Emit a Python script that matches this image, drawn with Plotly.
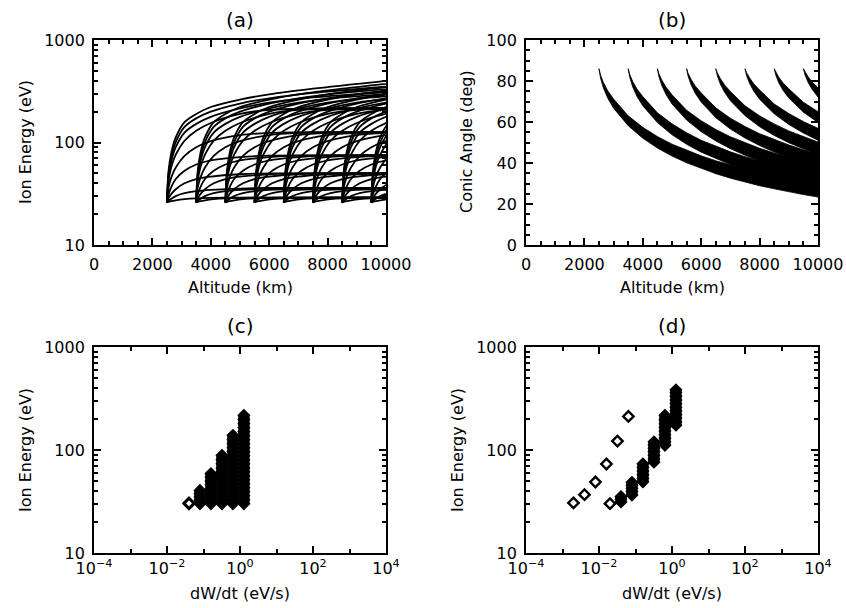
import plotly.graph_objects as go

# ---------------- data ----------------
# Panel (a): ion energy vs altitude, one family of curves per release altitude
FAMILY_STARTS = [2500, 3500, 4500, 5500, 6500, 7500, 8500, 9500]          # km
CURVE_OFFSETS = [0, 50, 150, 300, 600, 1000, 1500, 2500, 3500, 5000, 7500]  # km above release
CURVE_ENERGIES = [                                                          # eV
    [26, 52, 80, 112, 158, 190, 222, 262, 295, 335, 400],
    [26, 48, 73, 101, 142, 172, 200, 240, 270, 305, 350],
    [26, 45, 66, 90, 125, 152, 178, 215, 245, 275, 310],
    [26, 42, 58, 76, 104, 130, 155, 190, 208, 215, 217],
    [26, 36, 46, 57, 74, 90, 103, 118, 124, 126, 126],
    [26, 31, 37, 44, 53, 61, 67, 72, 74.5, 75, 75],
    [26, 28.5, 31.5, 35, 40, 44, 46.5, 49, 50, 50, 50],
    [26, 27, 28.3, 30, 32, 33.5, 34.5, 35.5, 36, 36, 36],
    [26, 26.3, 26.8, 27.3, 28, 28.5, 28.8, 29, 29, 29, 29],
]

# Panel (b): conic angle bands (upper / lower envelope) per release altitude
B_ALT = {
    2500: [2500, 2550, 2650, 2800, 3000, 3500, 4000, 4500, 5000, 5500, 6000, 6500, 7000, 7500, 8000, 8500, 9000, 9500, 10000],
    3500: [3500, 3550, 3650, 3800, 4000, 4500, 5000, 5500, 6000, 6500, 7000, 7500, 8000, 8500, 9000, 9500, 10000],
    4500: [4500, 4550, 4650, 4800, 5000, 5500, 6000, 6500, 7000, 7500, 8000, 8500, 9000, 9500, 10000],
    5500: [5500, 5550, 5650, 5800, 6000, 6500, 7000, 7500, 8000, 8500, 9000, 9500, 10000],
    6500: [6500, 6550, 6650, 6800, 7000, 7500, 8000, 8500, 9000, 9500, 10000],
    7500: [7500, 7550, 7650, 7800, 8000, 8500, 9000, 9500, 10000],
    8500: [8500, 8550, 8650, 8800, 9000, 9500, 10000],
    9500: [9500, 9550, 9650, 9800, 10000],
}
B_LOWER = {
    2500: [86, 81.6, 76.6, 71.6, 66.75, 58.2, 52.1, 47.3, 43.4, 40.1, 37.3, 34.8, 32.6, 30.7, 28.9, 27.4, 25.9, 24.6, 23.4],
    3500: [86, 81.9, 77.2, 72.5, 67.9, 59.7, 53.8, 49.15, 45.3, 42.1, 39.25, 36.8, 34.6, 32.65, 30.9, 29.3, 27.85],
    4500: [86, 82.2, 77.8, 73.3, 68.8, 60.95, 55.3, 50.75, 47.0, 43.8, 41.0, 38.6, 36.4, 34.4, 32.7],
    5500: [86, 82.4, 78.2, 73.9, 69.7, 62.1, 56.55, 52.2, 48.5, 45.35, 42.6, 40.2, 38.0],
    6500: [86, 82.65, 78.6, 74.5, 70.4, 63.1, 57.7, 53.45, 49.85, 46.8, 44.05],
    7500: [86, 82.8, 79.0, 75.0, 71.1, 64.0, 58.8, 54.6, 51.1],
    8500: [86, 83.0, 79.3, 75.5, 71.7, 64.8, 59.75],
    9500: [86, 83.15, 79.6, 75.9, 72.2],
}
B_UPPER = {
    2500: [86, 83.0, 79.3, 75.2, 71.2, 63.0, 57.4, 52.9, 49.2, 46.2, 43.5, 41.1, 39.0, 37.2, 35.5, 34.1, 32.7, 31.4, 30.3],
    3500: [86, 83.3, 79.9, 76.1, 72.4, 64.5, 59.1, 54.75, 51.1, 48.2, 45.45, 43.1, 41.0, 39.15, 37.5, 36.0, 34.65],
    4500: [86, 83.6, 80.5, 76.9, 73.3, 65.75, 60.6, 56.35, 52.8, 49.9, 47.2, 44.9, 42.8, 40.9, 39.3],
    5500: [86, 83.8, 80.9, 77.5, 74.2, 66.9, 61.85, 57.8, 54.3, 51.45, 48.8, 46.5, 44.4],
    6500: [86, 84.05, 81.3, 78.1, 74.9, 67.9, 63.0, 59.05, 55.65, 52.9, 50.25],
    7500: [86, 84.2, 81.7, 78.6, 75.6, 68.8, 64.1, 60.2, 56.9],
    8500: [86, 84.4, 82.0, 79.1, 76.2, 69.6, 65.05],
    9500: [86, 84.55, 82.3, 79.5, 76.7],
}

# Panel (c): energy vs heating rate
RATES = [0.04, 0.08, 0.16, 0.32, 0.64, 1.28]  # eV/s
C_ENERGIES = [
    [30, 30.6],
    [30, 32.5, 35, 37.5, 40.5],
    [30, 32.5, 35.5, 38.5, 42, 46, 50, 54.5, 59],
    [30, 33, 36, 39.5, 43, 47, 51.5, 56, 61.5, 67, 73.5, 80.5, 89],
    [30, 33, 36, 39.5, 43, 47, 51.5, 56, 61.5, 67, 73.5, 80.5, 88, 96, 105, 115, 126, 139],
    [30, 33, 36, 39.5, 43, 47, 51.5, 56, 61.5, 67, 73.5, 80.5, 88, 96, 105, 115, 126, 138, 151, 165, 181, 198, 217],
]

# Panel (d): energy vs heating rate, two model runs
D_ENERGIES = [
    [31.3, 33.3, 35.3],
    [36.5, 39.5, 42.5, 45.5, 48.5],
    [49, 53, 57.5, 62.5, 68, 73.5],
    [76, 82, 89, 96.5, 104, 112, 120],
    [111, 120, 130, 141, 153, 166, 180, 196, 217],
    [174, 188, 204, 221, 240, 260, 282, 306, 332, 360, 385],
]
D_OPEN_RATES = [0.002, 0.004, 0.008, 0.016, 0.032, 0.064, 0.02]
D_OPEN_ENERGIES = [30.6, 36.8, 48.9, 73.1, 122, 212, 30.1]

# ---------------- layout helpers ----------------
W, H = 846, 608
FONT = "DejaVu Sans"


def px_x(p):
    return p / W


def px_y(p):
    return 1 - p / H


XDOM_L = [px_x(94), px_x(386)]
XDOM_R = [px_x(526), px_x(818)]
YDOM_T = [px_y(245), px_y(40)]
YDOM_B = [px_y(553), px_y(347)]

fig = go.Figure()

LINE_W = 1.8

# Panel (a)
for z0 in FAMILY_STARTS:
    for curve in CURVE_ENERGIES:
        fig.add_trace(go.Scatter(
            x=[z0 + d for d in CURVE_OFFSETS], y=curve, mode="lines",
            line=dict(color="black", width=LINE_W, shape="spline", smoothing=0.8),
            xaxis="x", yaxis="y", hoverinfo="skip"))

# Panel (b)
for z0 in FAMILY_STARTS:
    xs = B_ALT[z0] + B_ALT[z0][::-1]
    ys = B_UPPER[z0] + B_LOWER[z0][::-1]
    fig.add_trace(go.Scatter(
        x=xs, y=ys, mode="lines", fill="toself", fillcolor="black",
        line=dict(color="black", width=0.8),
        xaxis="x2", yaxis="y2", hoverinfo="skip"))

DIAM = 8.8
FILLED = dict(symbol="diamond", size=DIAM, color="black", line=dict(width=1.2, color="black"))
OPEN = dict(symbol="diamond-open", size=8, color="black", line=dict(width=2.4, color="black"))


def column(r, es, xa, ya):
    if len(es) <= 2:
        return go.Scatter(x=[r] * len(es), y=es, mode="markers", marker=OPEN,
                          xaxis=xa, yaxis=ya, hoverinfo="skip")
    return go.Scatter(x=[r] * len(es), y=es, mode="lines+markers", marker=FILLED,
                      line=dict(color="black", width=DIAM * 1.3),
                      xaxis=xa, yaxis=ya, hoverinfo="skip")


# Panel (c)
for r, es in zip(RATES, C_ENERGIES):
    fig.add_trace(column(r, es, "x3", "y3"))

# Panel (d)
fig.add_trace(go.Scatter(x=D_OPEN_RATES, y=D_OPEN_ENERGIES, mode="markers", marker=OPEN,
                         xaxis="x4", yaxis="y4", hoverinfo="skip"))
for r, es in zip(RATES, D_ENERGIES):
    fig.add_trace(column(r, es, "x4", "y4"))

common = dict(showline=True, linecolor="black", linewidth=1.8, mirror="allticks",
              ticks="inside", ticklen=7, tickwidth=1.5, tickcolor="black",
              showgrid=False, zeroline=False, automargin=False,
              tickfont=dict(family=FONT, size=16, color="black"))

alt_axis = dict(common, range=[0, 10000], tickmode="array",
                tickvals=[0, 2000, 4000, 6000, 8000, 10000],
                ticktext=["0", "2000", "4000", "6000", "8000", "10000"],
                ticklabelstandoff=4,
                minor=dict(ticks="inside", ticklen=4, tickwidth=1.5, tickcolor="black", dtick=500, tick0=0))

log_minor_e = [v * m for v in (10, 100) for m in range(2, 10)]
energy_axis = dict(common, type="log", range=[1, 3], tickmode="array",
                   tickvals=[10, 100, 1000], ticktext=["10", "100", "1000"],
                   ticklabelstandoff=4,
                   minor=dict(ticks="inside", ticklen=4, tickwidth=1.5, tickcolor="black",
                              tickmode="array", tickvals=log_minor_e))

rate_axis = dict(common, type="log", range=[-4, 4], tickmode="array",
                 tickvals=[1e-4, 1e-2, 1, 1e2, 1e4],
                 ticktext=["10<sup>−4</sup>", "10<sup>−2</sup>", "10<sup>0</sup>", "10<sup>2</sup>", "10<sup>4</sup>"],
                 ticklabelstandoff=0,
                 minor=dict(ticks="inside", ticklen=4, tickwidth=1.5, tickcolor="black",
                            tickmode="array", tickvals=[1e-3, 1e-1, 10, 1e3]))

angle_axis = dict(common, range=[0, 100], tickmode="array",
                  tickvals=[0, 20, 40, 60, 80, 100],
                  ticklabelstandoff=4,
                  minor=dict(ticks="inside", ticklen=4, tickwidth=1.5, tickcolor="black", dtick=5, tick0=0))

fig.update_layout(
    width=W, height=H, margin=dict(l=0, r=0, t=0, b=0, autoexpand=False),
    paper_bgcolor="white", plot_bgcolor="white", showlegend=False,
    font=dict(family=FONT, size=16, color="black"),
    xaxis=dict(alt_axis, domain=XDOM_L, anchor="y"),
    yaxis=dict(energy_axis, domain=YDOM_T, anchor="x"),
    xaxis2=dict(alt_axis, domain=XDOM_R, anchor="y2"),
    yaxis2=dict(angle_axis, domain=YDOM_T, anchor="x2"),
    xaxis3=dict(rate_axis, domain=XDOM_L, anchor="y3"),
    yaxis3=dict(energy_axis, domain=YDOM_B, anchor="x3"),
    xaxis4=dict(rate_axis, domain=XDOM_R, anchor="y4"),
    yaxis4=dict(energy_axis, domain=YDOM_B, anchor="x4"),
)

ann = []


def label(text, x, y, angle=0, size=16):
    ann.append(dict(text=text, x=px_x(x), y=px_y(y), xref="paper", yref="paper",
                    showarrow=False, textangle=angle, xanchor="center", yanchor="middle",
                    font=dict(family=FONT, size=size, color="black")))


label("(a)", 240, 20, size=20)
label("(b)", 672, 20, size=20)
label("(c)", 240, 326, size=20)
label("(d)", 672, 326, size=20)
label("Altitude (km)", 240, 287)
label("Altitude (km)", 672, 287)
label("dW/dt (eV/s)", 240, 593)
label("dW/dt (eV/s)", 672, 593)
label("Ion Energy (eV)", 25, 142, -90)
label("Conic Angle (deg)", 466, 142, -90)
label("Ion Energy (eV)", 25, 450, -90)
label("Ion Energy (eV)", 457, 450, -90)
fig.update_layout(annotations=ann)

fig.write_html("out.html")
